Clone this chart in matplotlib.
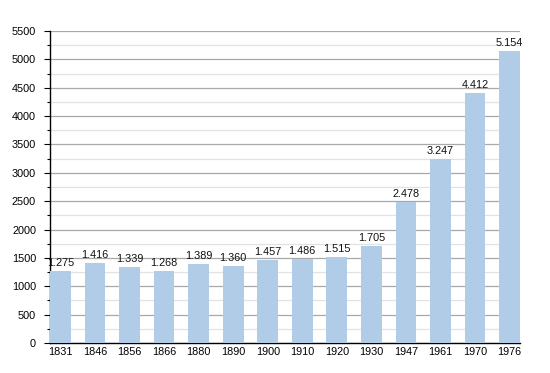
import matplotlib
matplotlib.use("Agg")
import matplotlib.pyplot as plt
from matplotlib.ticker import MultipleLocator

years = ["1831", "1846", "1856", "1866", "1880", "1890", "1900", "1910", "1920", "1930", "1947", "1961", "1970", "1976"]
population = [1275, 1416, 1339, 1268, 1389, 1360, 1457, 1486, 1515, 1705, 2478, 3247, 4412, 5154]
labels = ["1.275", "1.416", "1.339", "1.268", "1.389", "1.360", "1.457", "1.486", "1.515", "1.705", "2.478", "3.247", "4.412", "5.154"]

plt.rcParams['font.family'] = ['Liberation Sans', 'DejaVu Sans']

fig = plt.figure(figsize=(5.5, 3.73), dpi=100)
ax = fig.add_axes([50/550, 30/373, 470/550, 312/373])

x = list(range(len(years)))
ax.bar(x, population, width=0.6, color="#b0cce6", zorder=3)
for xi, v, lab in zip(x, population, labels):
    ax.text(xi, v + 55, lab, ha="center", va="bottom", fontsize=7.8, color="#111111", zorder=4)

ax.set_xlim(-0.3, 13.3)
ax.set_ylim(0, 5500)
ax.yaxis.set_major_locator(MultipleLocator(500))
ax.yaxis.set_minor_locator(MultipleLocator(250))
ax.grid(axis="y", which="major", color="#a8a8a8", linewidth=0.9, zorder=0)
ax.grid(axis="y", which="minor", color="#e2e2e2", linewidth=0.9, zorder=0)
ax.set_xticks(x)
ax.set_xticklabels(years)
ax.tick_params(axis="x", length=0, labelsize=7.8, pad=3)
ax.tick_params(axis="y", which="major", length=4, width=0.8, labelsize=7.8, pad=6)
ax.tick_params(axis="y", which="minor", length=2, width=0.8)
for s in ["top", "right"]:
    ax.spines[s].set_visible(False)
ax.spines["left"].set_linewidth(1.0)
ax.spines["bottom"].set_linewidth(1.0)

fig.savefig("out.png", dpi=100)
